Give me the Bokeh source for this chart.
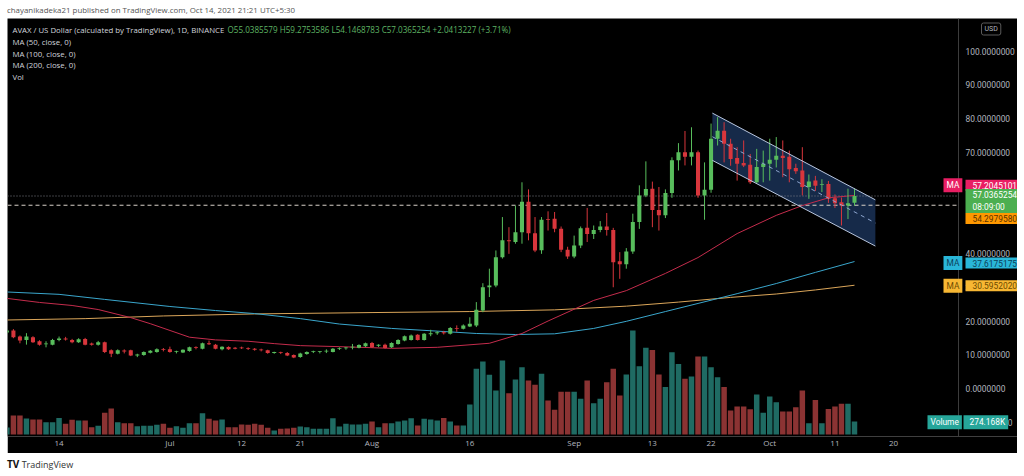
import numpy as np
import pandas as pd
from bokeh.plotting import figure
from bokeh.models import (Range1d, FixedTicker, Label, Span, ColumnDataSource, Div, Spacer)
from bokeh.core.properties import value
from bokeh.layouts import column, row
from bokeh.embed import file_html
from bokeh.resources import INLINE

# ---------------- data ----------------
start = pd.Timestamp("2021-06-06")
dates = pd.date_range(start, periods=131, freq="D")

opens = [16.6, 17.2, 15.4, 14.4, 15.2, 14.0, 13.1, 13.0, 14.4, 14.8,
         14.4, 13.7, 14.7, 13.3, 13.0, 13.7, 11.3, 10.3, 11.1, 11.3,
         9.8, 9.9, 10.6, 10.8, 11.55, 11.65, 10.8, 10.7, 11.1, 12.1,
         11.8, 13.4, 13.0, 11.6, 12.3, 12.0, 12.1, 11.9, 11.7, 11.5,
         11.3, 10.55, 10.65, 10.5, 9.9, 9.3, 10.2, 10.8, 10.8, 10.95,
         10.8, 11.7, 11.9, 12.15, 12.1, 12.5, 13.5, 12.7, 13.0, 12.2,
         13.2, 14.2, 14.4, 15.9, 14.4, 16.1, 16.4, 16.6, 16.2, 17.8,
         17.7, 18.4, 18.7, 23.1, 30.0, 30.5, 38.9, 43.9, 43.4, 46.3,
         55.3, 46.0, 41.0, 50.2, 50.3, 47.3, 41.1, 39.1, 42.4, 47.6,
         45.8, 47.0, 48.0, 47.0, 37.7, 36.8, 40.6, 49.3, 57.2, 59.2,
         52.9, 51.3, 57.9, 67.6, 70.0, 68.7, 70.0, 57.2, 58.9, 74.0,
         76.4, 72.5, 68.3, 66.8, 66.3, 61.1, 65.6, 66.6, 67.8, 69.0,
         68.7, 65.3, 64.6, 59.7, 61.6, 60.3, 60.6, 56.4, 55.2, 54.2,
         55.0385579]
highs = [17.6, 17.6, 15.7, 16.4, 15.5, 14.3, 14.0, 14.7, 15.4, 15.3,
         14.7, 14.9, 15.0, 13.6, 14.1, 13.9, 11.6, 11.6, 11.6, 11.5,
         10.3, 11.0, 11.4, 11.9, 12.0, 12.4, 11.2, 11.6, 12.4, 12.5,
         13.6, 14.2, 13.2, 12.5, 12.5, 12.3, 12.4, 12.2, 12.0, 11.8,
         11.5, 10.9, 10.9, 10.8, 10.1, 10.6, 11.0, 11.2, 11.1, 11.6,
         12.0, 12.2, 12.3, 13.2, 13.1, 13.6, 13.8, 13.1, 13.3, 13.7,
         14.6, 15.7, 16.0, 16.1, 16.4, 17.4, 17.0, 17.1, 18.2, 18.7,
         19.0, 21.1, 25.6, 31.2, 35.5, 40.9, 50.8, 47.8, 54.2, 61.1,
         59.0, 50.8, 50.8, 52.5, 52.3, 48.0, 42.0, 45.3, 48.0, 53.5,
         48.3, 49.6, 52.0, 47.6, 40.4, 41.6, 51.8, 60.2, 67.3, 61.3,
         59.7, 59.0, 68.5, 72.7, 76.3, 77.4, 70.5, 67.0, 78.5, 80.4,
         78.9, 74.0, 71.5, 73.5, 69.5, 71.0, 70.5, 74.0, 74.5, 73.5,
         70.5, 66.6, 71.5, 63.4, 63.0, 62.0, 61.5, 57.5, 56.6, 59.2,
         59.2753586]
lows = [16.2, 14.9, 13.4, 13.0, 13.5, 12.7, 12.2, 12.8, 14.0, 14.2,
        13.4, 13.5, 12.8, 12.7, 12.7, 10.5, 9.3, 10.1, 10.4, 9.6,
        9.3, 9.7, 10.4, 10.6, 11.0, 10.6, 10.4, 10.5, 10.9, 11.6,
        11.6, 12.9, 11.6, 11.3, 11.4, 11.6, 11.7, 11.4, 11.2, 11.0,
        10.3, 10.3, 10.2, 9.6, 9.0, 9.1, 10.0, 10.5, 10.4, 10.5,
        10.7, 11.4, 11.5, 11.6, 11.9, 12.3, 12.0, 12.3, 11.8, 12.0,
        13.0, 14.0, 14.2, 14.2, 14.2, 15.5, 15.9, 16.0, 16.0, 16.8,
        17.5, 18.2, 18.2, 22.6, 27.1, 30.0, 38.5, 39.9, 42.9, 42.9,
        43.9, 40.4, 39.9, 46.8, 46.3, 40.4, 38.4, 38.6, 41.6, 43.4,
        44.3, 46.3, 45.3, 30.0, 32.5, 35.5, 39.9, 47.3, 56.7, 47.8,
        46.8, 50.5, 56.5, 64.6, 66.1, 66.1, 56.5, 50.0, 58.0, 72.0,
        67.0, 66.0, 61.6, 65.6, 60.6, 60.6, 61.1, 61.6, 65.5, 62.6,
        61.1, 63.6, 57.2, 56.2, 58.5, 58.2, 55.0, 53.5, 48.3, 50.2,
        54.1468783]
closes = [17.2, 15.2, 14.2, 15.4, 13.7, 13.0, 13.3, 14.4, 14.8, 14.5,
          13.7, 14.6, 13.0, 13.0, 13.7, 10.8, 10.3, 11.3, 11.0, 9.8,
          10.0, 10.8, 11.2, 11.65, 11.45, 10.8, 10.85, 11.45, 12.25, 12.0,
          13.4, 13.1, 11.8, 12.4, 11.6, 11.8, 11.9, 11.7, 11.5, 11.3,
          10.5, 10.65, 10.5, 9.8, 9.2, 10.4, 10.8, 10.9, 10.9, 11.0,
          11.8, 11.9, 12.0, 12.25, 12.9, 13.4, 12.2, 12.8, 12.0, 13.5,
          14.4, 15.5, 15.7, 14.4, 16.2, 16.2, 16.5, 16.4, 17.9, 17.6,
          18.7, 19.2, 23.3, 30.0, 30.5, 38.9, 43.9, 43.6, 46.3, 55.3,
          46.0, 40.9, 50.0, 50.0, 47.3, 41.1, 39.1, 42.4, 47.5, 45.8,
          47.0, 48.0, 47.0, 37.4, 36.8, 40.6, 49.3, 57.2, 59.1, 52.9,
          51.3, 57.9, 67.6, 70.0, 68.7, 70.0, 57.2, 58.9, 74.0, 76.4,
          72.5, 68.0, 66.6, 66.1, 61.1, 65.6, 66.6, 67.8, 69.0, 68.3,
          65.0, 64.4, 59.7, 61.3, 60.1, 60.4, 56.2, 54.9, 54.2, 54.9,
          57.0365254]
# volume in thousands
volume_k = [148, 400, 400, 340, 315, 315, 260, 260, 350, 225,
            310, 295, 295, 155, 185, 460, 550, 260, 240, 240,
            175, 185, 185, 205, 225, 140, 175, 140, 240, 240,
            450, 330, 295, 315, 155, 155, 210, 205, 225, 205,
            140, 85, 120, 125, 140, 170, 155, 120, 120, 120,
            345, 170, 225, 210, 210, 225, 275, 155, 240, 240,
            275, 295, 345, 190, 330, 315, 295, 350, 275, 190,
            190, 635, 1385, 1540, 1260, 930, 1560, 870, 1160, 1420,
            1140, 1050, 1280, 720, 520, 900, 900, 900, 755, 1140,
            660, 755, 1105, 1385, 825, 1265, 2195, 1440, 1830, 1785,
            1265, 1000, 1735, 1490, 1175, 1225, 1645, 1645, 1420, 1210,
            1000, 505, 590, 590, 535, 845, 460, 800, 680, 485,
            485, 575, 930, 240, 730, 240, 540, 590, 650, 650,
            274.168]

ma50_day = [0, 5, 10, 14, 19, 22, 28, 32, 37, 41, 45, 51, 59, 66, 74, 79, 83, 90, 95, 101, 106, 112, 118, 122, 126, 130]
ma50_val = [26.7, 25.5, 24.6, 23.4, 21.0, 19.2, 15.2, 14.4, 14.0, 13.3, 12.7, 12.4, 11.9, 12.2, 13.4, 16.3, 20.0, 26.1, 29.0, 34.1, 38.8, 45.9, 51.3, 54.2, 56.5, 57.2045101]
ma100_day = [0, 8, 15, 25, 32, 38, 45, 51, 59, 66, 72, 78, 84, 90, 95, 101, 106, 112, 118, 124, 130]
ma100_val = [28.6, 27.9, 26.4, 24.3, 23.1, 22.2, 20.7, 19.1, 17.8, 17.0, 16.3, 16.0, 16.2, 17.8, 19.9, 22.8, 25.2, 28.1, 31.1, 34.4, 37.6175175]
ma200_day = [0, 12, 24, 38, 56, 71, 84, 95, 103, 111, 118, 124, 130]
ma200_val = [20.3, 20.7, 21.5, 22.1, 22.5, 22.8, 23.3, 24.4, 25.6, 27.0, 28.0, 29.2, 30.5952020]

channel_day = [108.2, 133.2]
channel_upper = [81.6, 55.9]
channel_lower = [67.6, 42.2]

last_price = 57.0365254
hline_price = 54.2979580
last_volume = "274.168K"

tick_dates = ["2021-06-14", "2021-07-01", "2021-07-12", "2021-07-21", "2021-08-01", "2021-08-16",
              "2021-09-01", "2021-09-13", "2021-09-22", "2021-10-01", "2021-10-11", "2021-10-20"]
tick_labels = ["14", "Jul", "12", "21", "Aug", "16", "Sep", "13", "22", "Oct", "11", "20"]
price_ticks = [-10, 0, 10, 20, 30, 40, 50, 60, 70, 80, 90, 100]

# ---------------- layout helpers (page pixel -> data) ----------------
X0, DXP = 6.4, 6.52      # page x of day 0, pixels per day
Y0, DYP = 388.0, 3.375   # page y of price 0, pixels per unit
def dx(px):
    return (px - X0) / DXP
def dy(py):
    return (Y0 - py) / DYP

FONT = "Open Sans"
NUMFONT = "Roboto"
NUMSIZE = "8.4px"
UP, DOWN = "#58bd5c", "#d8363c"
VUP, VDOWN = "#1f6b63", "#8b3333"
SCALE_X = 958  # page x of the price-scale separator

x = np.arange(len(dates))
o = np.array(opens); c = np.array(closes); h = np.array(highs); l = np.array(lows)
up = c >= o
body_top = np.maximum(o, c)
body_bot = np.minimum(o, c)
small = (body_top - body_bot) < 0.25
body_top = np.where(small, body_bot + 0.25, body_top)
src = ColumnDataSource(dict(x=x, top=body_top, bot=body_bot, high=h, low=l,
                            col=np.where(up, UP, DOWN), vcol=np.where(up, VUP, VDOWN),
                            vol=np.array(volume_k)))

p = figure(width=1010, height=435, output_backend="svg", toolbar_location=None,
           x_range=Range1d(dx(7), dx(1017)), y_range=Range1d(dy(436), dy(18)),
           y_axis_location=None, background_fill_color="black", border_fill_color="black",
           min_border_left=0, min_border_top=0, min_border_right=0, min_border_bottom=17,
           outline_line_color=None)
p.extra_y_ranges = {"vol": Range1d(-42.2, -42.2 + 418 * 21.1)}
p.grid.visible = False

# volume
p.vbar(x="x", width=0.84, top="vol", bottom=0, fill_color="vcol", line_color=None,
       y_range_name="vol", source=src)

# channel drawing
cx = [channel_day[0], channel_day[1], channel_day[1], channel_day[0]]
cy = [channel_upper[0], channel_upper[1], channel_lower[1], channel_lower[0]]
p.patch(cx, cy, fill_color="#24467a", fill_alpha=0.6, line_color=None)

# horizontal price lines (stop at the price scale)
xl = [dx(7), dx(SCALE_X)]
p.line(xl, [last_price, last_price], line_color="#7d7f86", line_dash="1 2", line_width=1)
p.line(xl, [hline_price, hline_price], line_color="#d8d0c8", line_dash="4 3", line_width=1)

# moving averages
p.line(ma200_day, ma200_val, line_color="#dba65a", line_width=1)
p.line(ma100_day, ma100_val, line_color="#3aa6cc", line_width=1)
p.line(ma50_day, ma50_val, line_color="#c42c4c", line_width=1)

# candles
p.segment(x0="x", x1="x", y0="low", y1="high", line_color="col", line_width=1, source=src)
p.vbar(x="x", width=0.62, top="top", bottom="bot", fill_color="col", line_color=None, source=src)

# channel borders
p.line(channel_day, channel_upper, line_color="#b9c6de", line_width=1)
p.line(channel_day, channel_lower, line_color="#b9c6de", line_width=1)
p.line(channel_day, [(a + b) / 2 for a, b in zip(channel_upper, channel_lower)],
       line_color="#8ea6cf", line_width=1, line_dash="4 4")

# price scale separator and labels
p.add_layout(Span(location=dx(SCALE_X), dimension="height", line_color="#3c3c3c", line_width=1))
p.text(x=[dx(965)] * len(price_ticks), y=price_ticks, text=[f"{v:.7f}" for v in price_ticks],
       text_color="#b2b5be", text_font=value(NUMFONT), text_font_size=NUMSIZE,
       text_baseline="middle", text_align="left")

# time axis
tick_pos = [(pd.Timestamp(d) - start).days for d in tick_dates]
p.xaxis.ticker = FixedTicker(ticks=tick_pos)
p.xaxis.major_label_overrides = {t: s for t, s in zip(tick_pos, tick_labels)}
p.xaxis.major_label_text_color = "#b2b5be"
p.xaxis.major_label_text_font = FONT
p.xaxis.major_label_text_font_size = "8px"
p.xaxis.major_label_standoff = 0
p.xaxis.major_tick_out = 0
p.xaxis.major_tick_in = 0
p.xaxis.minor_tick_out = 0
p.xaxis.minor_tick_in = 0
p.xaxis.axis_line_color = None

# header texts
def hdr(px, py, text, color, size="7.8px"):
    p.add_layout(Label(x=dx(px), y=dy(py), text=text, text_color=color, text_font=FONT,
                       text_font_size=size, text_baseline="middle", text_align="left"))
hdr(12, 29.3, "AVAX / US Dollar (calculated by TradingView), 1D, BINANCE", "#d1d4dc")
hdr(227, 29.3, "O55.0385579  H59.2753586  L54.1468783  C57.0365254  +2.0413227 (+3.71%)", "#5fb564", "8.1px")
hdr(12, 41.5, "MA (50, close, 0)", "#d1d4dc")
hdr(12, 53.0, "MA (100, close, 0)", "#d1d4dc")
hdr(12, 64.5, "MA (200, close, 0)", "#d1d4dc")
hdr(12, 76.0, "Vol", "#d1d4dc")

# price scale badges: box_left is the page x where the coloured box starts
# padding order is (left, right, top, bottom)
def badge(box_left, py, text, bg, fg, pad):
    p.add_layout(Label(x=dx(box_left + pad[0]), y=dy(py), text=text, text_color=fg,
                       text_font=NUMFONT, text_font_size=NUMSIZE, text_baseline="middle",
                       text_align="left", background_fill_color=bg, background_fill_alpha=1.0,
                       padding=pad))
badge(940, 184.7, "MA", "#e91e63", "white", (3, 3, 2, 2))
badge(SCALE_X, 184.7, f"{ma50_val[-1]:.7f}", "#e91e63", "white", (7, 2, 2, 2))
badge(SCALE_X, 200.5, f"{last_price:.7f}\n08:09:00", "#4caf50", "white", (7, 2, 1, 1))
badge(SCALE_X, 218.0, f"{hline_price:.7f}", "#ff9800", "#5a3200", (7, 2, 2, 2))
badge(940, 262.5, "MA", "#29b6d8", "#0d3f5a", (3, 3, 2, 2))
badge(SCALE_X, 262.5, f"{ma100_val[-1]:.7f}", "#29b6d8", "#0d3f5a", (7, 2, 2, 2))
badge(940, 285.3, "MA", "#f7b733", "#6b4a00", (3, 3, 2, 2))
badge(SCALE_X, 285.3, f"{ma200_val[-1]:.7f}", "#f7b733", "#6b4a00", (7, 2, 2, 2))
badge(924, 421.7, "Volume", "#26a69a", "white", (3, 3, 2, 2))
badge(957, 421.7, last_volume, "#26a69a", "white", (6, 3, 2, 2))
p.add_layout(Label(x=dx(981), y=dy(28.5), text="USD", text_color="#b2b5be", text_font=NUMFONT,
                   text_font_size="7px", text_baseline="middle", text_align="left",
                   border_line_color="#5a5a5a", border_line_width=1, padding=(3, 3, 2, 2),
                   border_radius=2))

top_div = Div(text='<div style="font-family:\'Open Sans\';font-size:7.9px;color:#555;'
                   'padding-left:7px;line-height:20px;white-space:nowrap">'
                   'chayanikadeka21 published on TradingView.com, Oct 14, 2021 21:21 UTC+5:30</div>',
              width=1024, height=18, margin=0)
bot_div = Div(text='<div style="font-family:\'Open Sans\';font-size:9px;color:#333;'
                   'padding-left:7px;line-height:23px;white-space:nowrap">'
                   '<b style="font-size:10px;color:#111">TV</b> TradingView</div>',
              width=1024, height=23, margin=0)

layout = column(top_div, row(Spacer(width=7, height=435, margin=0), p, margin=0), bot_div, margin=0)

open("out.html", "w").write(file_html(layout, INLINE))
